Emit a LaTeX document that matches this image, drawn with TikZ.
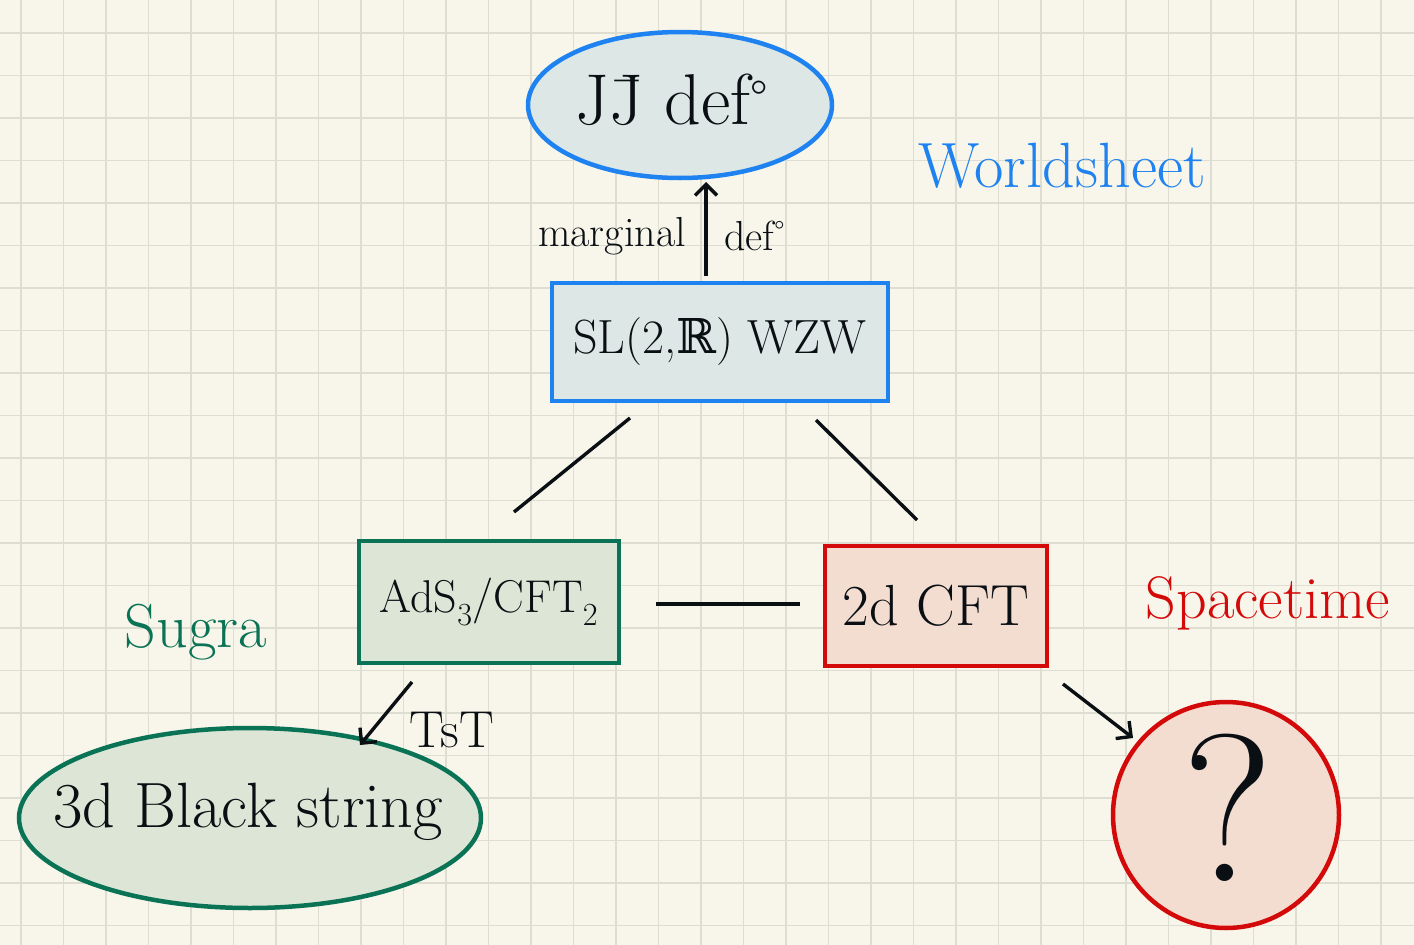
\documentclass[tikz,border=0pt]{standalone}
\usepackage{fontspec}
\newfontfamily\dvs{DejaVu Serif}
\usetikzlibrary{arrows.meta}
\definecolor{paper}{HTML}{F8F6EA}
\definecolor{gridc}{HTML}{DDDDD2}
\definecolor{bblue}{HTML}{1E82F0}
\definecolor{bfill}{HTML}{DDE7E5}
\definecolor{ggreen}{HTML}{0A7356}
\definecolor{gfill}{HTML}{DDE6D6}
\definecolor{rred}{HTML}{D40A0A}
\definecolor{rfill}{HTML}{F3DDD0}
\definecolor{ink}{HTML}{0A0F14}
\tikzset{
  bluebox/.style={draw=bblue, fill=bfill, line width=4.5pt},
  greenbox/.style={draw=ggreen, fill=gfill, line width=4.5pt},
  redbox/.style={draw=rred, fill=rfill, line width=4.5pt},
  conn/.style={draw=ink, line width=3.4pt},
  arr/.style={conn, -{Straight Barb[length=11pt,width=22pt,line width=3.4pt]}},
  lab/.style={text=ink, inner sep=0pt}
}
\begin{document}
\begin{tikzpicture}[x=1pt,y=-1pt]
\fill[paper] (0,0) rectangle (1414,945);
\useasboundingbox (0,0) rectangle (1414,945);
\foreach \i in {0,...,33} \draw[gridc, line width=1.8pt] (21+\i*42.5,0) -- (21+\i*42.5,945);
\foreach \i in {0,...,21} \draw[gridc, line width=1.8pt] (0,33+\i*42.5) -- (1414,33+\i*42.5);

% shapes
\draw[bluebox] (680,105) ellipse [x radius=152, y radius=73];
\node[lab, font=\fontsize{72}{80}\selectfont] (jj) at (672,100) {J\={J} def\textsuperscript{°}};
\node[bluebox, minimum width=336, minimum height=118, inner sep=0pt] (sl) at (720,342) {};
\node[lab, font=\fontsize{48}{56}\selectfont] at (sl) {SL(2,{\dvs ℝ}) WZW};
\node[greenbox, minimum width=260, minimum height=122, inner sep=0pt] (ads) at (489,602) {};
\node[lab, font=\fontsize{46}{54}\selectfont] at (ads) {AdS\textsubscript{3}/CFT\textsubscript{2}};
\node[redbox, minimum width=222, minimum height=120, inner sep=0pt] (cft) at (936,606) {};
\node[lab, font=\fontsize{58}{66}\selectfont] at (cft) {2d CFT};
\draw[greenbox] (250,818) ellipse [x radius=231, y radius=90];
\node[lab, font=\fontsize{64}{72}\selectfont] (bs) at (248,812) {3d Black string};
\draw[redbox] (1226,815) circle [radius=113];
\node[lab, font=\fontsize{210}{220}\selectfont] (q) at (1228,808) {?};

% anchor coordinates
\coordinate (jjb) at (706,182);
\coordinate (slt) at (706,276);
\coordinate (sl1) at (630,418);
\coordinate (ads1) at (514,512);
\coordinate (sl2) at (816,420);
\coordinate (cft1) at (917,520);
\coordinate (ads2) at (656,604);
\coordinate (cft2) at (800,604);
\coordinate (ads3) at (412,682);
\coordinate (bs1) at (360,745);
\coordinate (cft3) at (1063,684);
\coordinate (q1) at (1133,738);

\draw[arr] (slt) -- (jjb);
\draw[conn] (sl1) -- (ads1);
\draw[conn] (sl2) -- (cft1);
\draw[conn] (ads2) -- (cft2);
\draw[arr] (ads3) -- (bs1);
\draw[arr] (cft3) -- (q1);

% labels
\node[lab, font=\fontsize{42}{48}\selectfont, anchor=east] (marg) at (686,236) {marginal};
\node[lab, font=\fontsize{42}{48}\selectfont, anchor=west] (defn) at (724,236) {def\textsuperscript{°}};
\node[lab, font=\fontsize{52}{58}\selectfont] (tst) at (452,730) {TsT};
\node[font=\fontsize{64}{72}\selectfont, text=bblue, inner sep=0pt] (ws) at (1062,166) {Worldsheet};
\node[font=\fontsize{62}{70}\selectfont, text=ggreen, inner sep=0pt] (sugra) at (196,632) {Sugra};
\node[font=\fontsize{60}{68}\selectfont, text=rred, inner sep=0pt] (st) at (1268,603) {Spacetime};
\end{tikzpicture}
\end{document}
